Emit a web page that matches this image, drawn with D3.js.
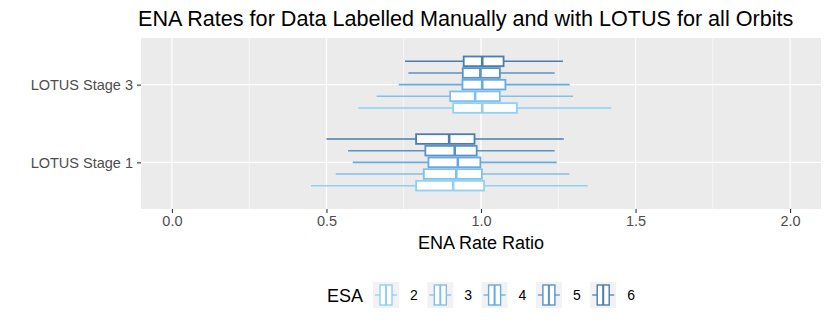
<!DOCTYPE html>
<html lang="en">
<head>
    <meta charset="UTF-8">
    <title>ENA Rates boxplot</title>
    <script src="https://d3js.org/d3.v7.min.js"></script>
    <style>
        body {
            margin: 0;
            padding: 0;
            background-color: #fff;
            font-family: "Liberation Sans", Arial, sans-serif;
        }
        .tick-label { fill: #4d4d4d; }
    </style>
</head>
<body>
    <div id="chart"></div>

    <script>
        // stages, top to bottom as drawn
        const stages = ["LOTUS Stage 3", "LOTUS Stage 1"];
        const esa = [2, 3, 4, 5, 6];
        const esaColors = ["#8fd0f5", "#80c1ec", "#66aae2", "#5892c9", "#4a7db0"];
        const xTicks = [0, 0.5, 1, 1.5, 2];
        const xMinor = [0.25, 0.75, 1.25, 1.75];

        // box stats per ESA (2..6)
        const stage1Low  = [0.45, 0.53, 0.585, 0.57, 0.50];
        const stage1Q1   = [0.79, 0.815, 0.83, 0.82, 0.79];
        const stage1Med  = [0.91, 0.92, 0.925, 0.915, 0.897];
        const stage1Q3   = [1.01, 1.003, 0.998, 0.986, 0.979];
        const stage1High = [1.345, 1.286, 1.245, 1.238, 1.268];

        const stage3Low  = [0.603, 0.662, 0.734, 0.765, 0.754];
        const stage3Q1   = [0.91, 0.90, 0.94, 0.941, 0.944];
        const stage3Med  = [1.004, 0.981, 1.004, 0.998, 1.004];
        const stage3Q3   = [1.116, 1.061, 1.079, 1.061, 1.073];
        const stage3High = [1.422, 1.298, 1.287, 1.238, 1.265];

        const W = 830, H = 326;
        const panel = {left: 141, right: 821, top: 38, bottom: 209};

        const svg = d3.select("#chart").append("svg")
            .attr("width", W)
            .attr("height", H);

        const x = d3.scaleLinear().domain([-0.1, 2.1]).range([panel.left, panel.right]);
        const y = d3.scalePoint().domain(stages).range([panel.top, panel.bottom]).padding(0.6);
        const step = y.step();
        // dodge: ESA 6 on top, ESA 2 at the bottom
        const dodge = d3.scaleBand().domain(esa.slice().reverse())
            .range([-0.375 * step, 0.375 * step]);

        // panel background + grid
        svg.append("rect")
            .attr("x", panel.left).attr("y", panel.top)
            .attr("width", panel.right - panel.left).attr("height", panel.bottom - panel.top)
            .attr("fill", "#ebebeb");

        svg.selectAll(".minor").data(xMinor).enter().append("line")
            .attr("x1", d => x(d)).attr("x2", d => x(d))
            .attr("y1", panel.top).attr("y2", panel.bottom)
            .attr("stroke", "#fff").attr("stroke-width", 0.6);

        svg.selectAll(".major").data(xTicks).enter().append("line")
            .attr("x1", d => x(d)).attr("x2", d => x(d))
            .attr("y1", panel.top).attr("y2", panel.bottom)
            .attr("stroke", "#fff").attr("stroke-width", 1.2);

        svg.selectAll(".hmajor").data(stages).enter().append("line")
            .attr("x1", panel.left).attr("x2", panel.right)
            .attr("y1", d => y(d)).attr("y2", d => y(d))
            .attr("stroke", "#fff").attr("stroke-width", 1.2);

        // build box records
        const boxes = [];
        const stats = {
            "LOTUS Stage 1": [stage1Low, stage1Q1, stage1Med, stage1Q3, stage1High],
            "LOTUS Stage 3": [stage3Low, stage3Q1, stage3Med, stage3Q3, stage3High]
        };
        stages.forEach(s => {
            const [lo, q1, med, q3, hi] = stats[s];
            esa.forEach((e, i) => {
                boxes.push({stage: s, esa: e, color: esaColors[i],
                    lo: lo[i], q1: q1[i], med: med[i], q3: q3[i], hi: hi[i]});
            });
        });

        const bh = dodge.bandwidth();
        const g = svg.selectAll(".box").data(boxes).enter().append("g")
            .attr("transform", d => `translate(0, ${y(d.stage) + dodge(d.esa)})`);

        g.append("line")
            .attr("x1", d => x(d.lo)).attr("x2", d => x(d.q1))
            .attr("y1", bh / 2).attr("y2", bh / 2)
            .attr("stroke", d => d.color).attr("stroke-width", 1.6);
        g.append("line")
            .attr("x1", d => x(d.q3)).attr("x2", d => x(d.hi))
            .attr("y1", bh / 2).attr("y2", bh / 2)
            .attr("stroke", d => d.color).attr("stroke-width", 1.6);
        g.append("rect")
            .attr("x", d => x(d.q1)).attr("width", d => x(d.q3) - x(d.q1))
            .attr("y", 1).attr("height", bh - 2)
            .attr("fill", "#fff")
            .attr("stroke", d => d.color).attr("stroke-width", 1.8);
        g.append("line")
            .attr("x1", d => x(d.med)).attr("x2", d => x(d.med))
            .attr("y1", 1).attr("y2", bh - 1)
            .attr("stroke", d => d.color).attr("stroke-width", 2.6);

        // axes
        const xAxis = d3.axisBottom(x).tickValues(xTicks).tickFormat(d3.format(".1f"))
            .tickSize(4).tickPadding(3);
        const gx = svg.append("g").attr("transform", `translate(0, ${panel.bottom})`).call(xAxis);
        gx.select(".domain").remove();
        gx.selectAll("line").attr("stroke", "#333").attr("stroke-width", 1.1);
        gx.selectAll("text").attr("class", "tick-label")
            .style("font-size", "14.5px").style("font-family", "Liberation Sans, Arial, sans-serif");

        const yAxis = d3.axisLeft(y).tickSize(4).tickPadding(4);
        const gy = svg.append("g").attr("transform", `translate(${panel.left}, 0)`).call(yAxis);
        gy.select(".domain").remove();
        gy.selectAll("line").attr("stroke", "#333").attr("stroke-width", 1.1);
        gy.selectAll("text").attr("class", "tick-label")
            .style("font-size", "14.5px").style("font-family", "Liberation Sans, Arial, sans-serif");

        // titles
        svg.append("text")
            .attr("x", 138).attr("y", 26)
            .style("font-size", "21.6px").attr("fill", "#000")
            .text("ENA Rates for Data Labelled Manually and with LOTUS for all Orbits");

        svg.append("text")
            .attr("x", (panel.left + panel.right) / 2).attr("y", 249)
            .attr("text-anchor", "middle")
            .style("font-size", "18px").attr("fill", "#000")
            .text("ENA Rate Ratio");

        // legend
        const legend = svg.append("g").attr("transform", "translate(327, 282)");
        legend.append("text")
            .attr("x", 0).attr("y", 20)
            .style("font-size", "18px").attr("fill", "#000")
            .text("ESA");

        const key = 26, itemStep = 54.3;
        const items = legend.selectAll(".item").data(esa).enter().append("g")
            .attr("transform", (d, i) => `translate(${46 + i * itemStep}, 0)`);
        items.append("rect")
            .attr("width", key).attr("height", key).attr("fill", "#f2f2f2");
        items.append("line")
            .attr("x1", 2).attr("x2", key - 2).attr("y1", key / 2).attr("y2", key / 2)
            .attr("stroke", (d, i) => esaColors[i]).attr("stroke-width", 1.3);
        items.append("rect")
            .attr("x", 7).attr("y", 3).attr("width", key - 14).attr("height", key - 6)
            .attr("fill", "#fff")
            .attr("stroke", (d, i) => esaColors[i]).attr("stroke-width", 1.4);
        items.append("line")
            .attr("x1", key / 2).attr("x2", key / 2).attr("y1", 3).attr("y2", key - 3)
            .attr("stroke", (d, i) => esaColors[i]).attr("stroke-width", 2);
        items.append("text")
            .attr("x", key + 11).attr("y", key / 2 + 5)
            .style("font-size", "14px").attr("fill", "#000")
            .text(d => d);
    </script>
</body>
</html>
